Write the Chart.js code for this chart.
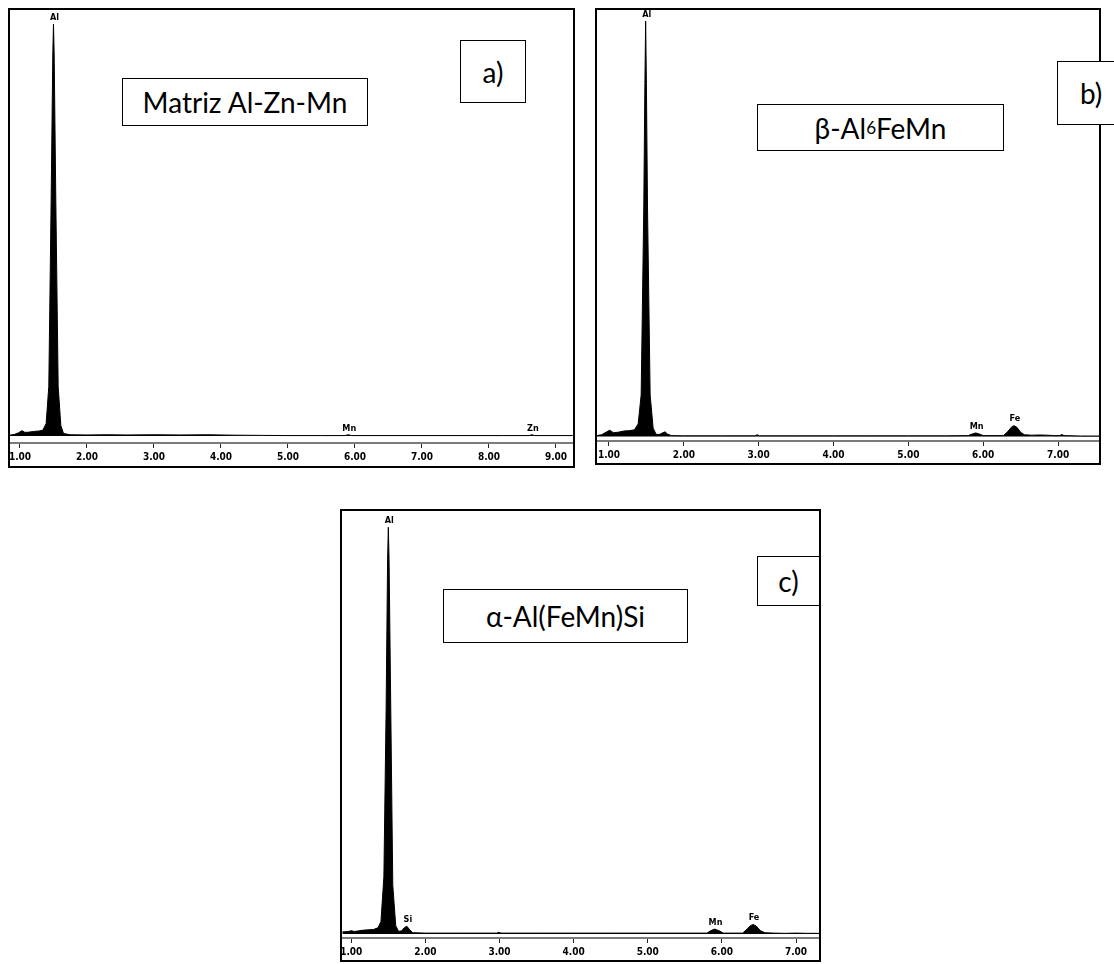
<!DOCTYPE html>
<html lang="es">
<head>
<meta charset="UTF-8">
<title>Espectros EDS</title>
<script src="https://cdn.jsdelivr.net/npm/chart.js"></script>
<style>
  body { margin: 0; background: #fff; }
  #page { position: relative; width: 1114px; height: 964px; overflow: hidden; }
  .panel { position: absolute; border: 2px solid #000; box-sizing: border-box; background: #fff; }
  .panel canvas { display: block; }
  .tag { position: absolute; box-sizing: border-box; border: 1.5px solid #000; background: #fff;
         font-family: Lato, "Open Sans", sans-serif; font-size: 28px; color: #000;
         display: flex; align-items: center; justify-content: center; white-space: nowrap; }
  .tag sub { font-size: 17px; vertical-align: -1px; }
</style>
</head>
<body>
<div id="page">
  <div class="panel" style="left:8px;top:8px;width:567px;height:460px"><canvas id="chartA" width="563" height="456"></canvas></div>
  <div class="panel" style="left:595px;top:8px;width:506px;height:457px"><canvas id="chartB" width="502" height="453"></canvas></div>
  <div class="panel" style="left:340px;top:509px;width:481px;height:453px"><canvas id="chartC" width="477" height="449"></canvas></div>

  <div class="tag" style="left:122px;top:78px;width:246px;height:48px">Matriz Al-Zn-Mn</div>
  <div class="tag" style="left:460px;top:40px;width:66px;height:63px">a)</div>
  <div class="tag" style="left:757px;top:104px;width:247px;height:47px">β-Al<sub>6</sub>FeMn</div>
  <div class="tag" style="left:1057px;top:61px;width:70px;height:64px;justify-content:flex-start;padding-left:22px">b)</div>
  <div class="tag" style="left:443px;top:589px;width:245px;height:54px">α-Al(FeMn)Si</div>
  <div class="tag" style="left:757px;top:556px;width:63px;height:50px">c)</div>
</div>

<script>
// spectrum a) Matriz Al-Zn-Mn : energy (keV) and intensity (% of Al peak)
const energyA = [0.85, 0.92, 0.98, 1.03, 1.07, 1.12, 1.2, 1.28, 1.34, 1.39, 1.43, 1.465, 1.49, 1.50, 1.51, 1.535, 1.57, 1.61, 1.65,
                 1.75, 2.0, 2.3, 2.6, 3.0, 3.4, 3.8, 4.2, 4.6, 5.0, 5.5, 5.85, 5.9, 5.95, 6.3, 7.0, 7.6, 8.2, 8.6, 8.64, 8.68, 9.25];
const countsA = [0.2, 0.4, 0.8, 1.3, 0.9, 0.9, 1.1, 1.2, 1.4, 3, 12, 57, 93, 100, 93, 57, 12, 2.5, 0.6,
                 0.3, 0.25, 0.3, 0.25, 0.3, 0.25, 0.3, 0.2, 0.15, 0.1, 0.1, 0.1, 0.3, 0.1, 0.1, 0.1, 0.1, 0.1, 0.1, 0.3, 0.1, 0.1];

// spectrum b) beta-Al6FeMn
const energyB = [0.84, 0.9, 0.96, 1.01, 1.06, 1.12, 1.2, 1.28, 1.34, 1.39, 1.43, 1.465, 1.48, 1.49, 1.50, 1.515, 1.55, 1.59, 1.63,
                 1.68, 1.72, 1.75, 1.78, 1.83, 2.0, 2.5, 2.95, 2.98, 3.01, 3.5, 4.0, 4.5, 5.0, 5.5, 5.8, 5.84, 5.9, 5.96, 6.0,
                 6.27, 6.33, 6.38, 6.41, 6.45, 6.5, 6.55, 6.65, 6.75, 6.85, 6.95, 7.02, 7.05, 7.08, 7.3, 7.55];
const countsB = [0.2, 0.4, 1.0, 1.5, 0.9, 1.0, 1.3, 1.4, 1.6, 3, 10, 55, 85, 100, 85, 55, 10, 2, 0.5,
                 0.5, 0.9, 1.1, 0.6, 0.2, 0.15, 0.15, 0.15, 0.4, 0.15, 0.15, 0.15, 0.15, 0.15, 0.15, 0.2, 0.5, 0.85, 0.5, 0.2,
                 0.2, 1.2, 2.3, 2.6, 2.2, 1.0, 0.4, 0.3, 0.35, 0.3, 0.2, 0.2, 0.45, 0.2, 0.1, 0.1];

// spectrum c) alpha-Al(FeMn)Si
const energyC = [0.88, 0.96, 1.0, 1.04, 1.08, 1.15, 1.22, 1.3, 1.36, 1.4, 1.44, 1.47, 1.49, 1.50, 1.51, 1.53, 1.56, 1.6, 1.64,
                 1.68, 1.72, 1.75, 1.78, 1.83, 2.0, 2.5, 2.96, 2.99, 3.02, 3.5, 4.0, 4.5, 5.0, 5.5, 5.8, 5.84, 5.9, 5.96, 6.02,
                 6.28, 6.34, 6.39, 6.42, 6.46, 6.52, 6.58, 6.7, 6.85, 7.0, 7.15, 7.31];
const countsC = [0.5, 0.6, 0.8, 0.6, 0.7, 0.9, 1.0, 1.1, 1.5, 3, 14, 55, 92, 100, 92, 60, 12, 2, 0.6,
                 0.8, 1.6, 1.9, 1.2, 0.3, 0.2, 0.2, 0.2, 0.4, 0.2, 0.2, 0.2, 0.2, 0.2, 0.2, 0.2, 0.7, 1.2, 0.8, 0.2,
                 0.2, 1.2, 2.1, 2.3, 2.0, 0.8, 0.3, 0.2, 0.15, 0.2, 0.15, 0.15];

// element markers
const namesA = ['Al', 'Mn', 'Zn'];
const linesA = [1.50, 5.90, 8.64];
const namesB = ['Al', 'Mn', 'Fe'];
const linesB = [1.49, 5.90, 6.41];
const namesC = ['Al', 'Si', 'Mn', 'Fe'];
const linesC = [1.50, 1.75, 5.90, 6.42];

// tick values on the energy axis
const ticksA = [1, 2, 3, 4, 5, 6, 7, 8, 9];
const ticksB = [1, 2, 3, 4, 5, 6, 7];
const ticksC = [1, 2, 3, 4, 5, 6, 7];

const tickFont = { family: '"Liberation Sans Narrow", "DejaVu Sans Condensed", sans-serif', size: 10, weight: 'bold' };

// writes the element symbol just above the highest point near its line
const peakLabels = {
  id: 'peakLabels',
  afterDatasetsDraw(chart, args, opts) {
    const ctx = chart.ctx, x = chart.scales.x, y = chart.scales.y;
    const pts = chart.data.datasets[0].data;
    ctx.save();
    ctx.font = 'bold 9px "Liberation Sans Narrow", "DejaVu Sans Condensed", sans-serif';
    ctx.fillStyle = '#000';
    ctx.textAlign = 'center';
    ctx.textBaseline = 'bottom';
    opts.names.forEach((n, i) => {
      const e = opts.lines[i];
      let top = 0;
      pts.forEach(p => { if (Math.abs(p.x - e) < 0.06 && p.y > top) top = p.y; });
      ctx.fillText(n, x.getPixelForValue(e) + 1, y.getPixelForValue(top) - 2);
    });
    ctx.restore();
  }
};

function makeSpectrum(id, energy, counts, names, lines, ticks, xr, yr, axisH) {
  const data = energy.map((e, i) => ({ x: e, y: counts[i] }));
  return new Chart(document.getElementById(id), {
    type: 'line',
    data: { datasets: [{ data: data, borderColor: '#000', borderWidth: 1, backgroundColor: '#000',
                         fill: 'origin', pointRadius: 0, tension: 0 }] },
    options: {
      responsive: false,
      animation: false,
      layout: { padding: 0 },
      plugins: { legend: { display: false }, tooltip: { enabled: false },
                 peakLabels: { names: names, lines: lines } },
      scales: {
        x: {
          type: 'linear', min: xr[0], max: xr[1],
          afterFit: s => { s.height = axisH; s.paddingLeft = 0; s.paddingRight = 0; },
          afterBuildTicks: s => { s.ticks = ticks.map(v => ({ value: v })); },
          border: { color: '#7a7a7a', width: 2 },
          grid: { drawOnChartArea: false, drawTicks: true, tickLength: 5, color: '#222', lineWidth: 1 },
          ticks: { autoSkip: false, maxRotation: 0, padding: 3, color: '#000', font: tickFont,
                   callback: v => Number(v).toFixed(2) }
        },
        y: { display: false, min: yr[0], max: yr[1] }
      }
    },
    plugins: [peakLabels]
  });
}

makeSpectrum('chartA', energyA, countsA, namesA, linesA, ticksA, [0.851, 9.254], [-1.7, 103.4], 23);
makeSpectrum('chartB', energyB, countsB, namesB, linesB, ticksB, [0.84, 7.547], [-1.1, 102.7], 22);
makeSpectrum('chartC', energyC, countsC, namesC, linesC, ticksC, [0.875, 7.31], [-1.0, 104.0], 22);
</script>
</body>
</html>
